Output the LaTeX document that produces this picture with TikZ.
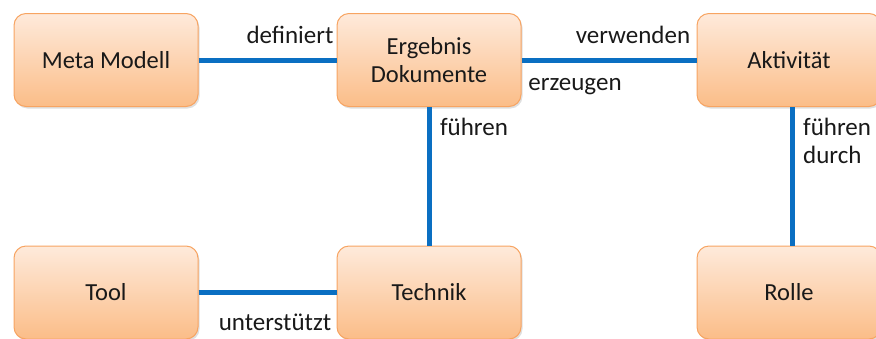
\documentclass[tikz,border=0pt]{standalone}
\usepackage{fontspec}
\setmainfont{Carlito}
\usetikzlibrary{shadows,positioning}
\definecolor{boxtop}{HTML}{FEEADB}
\definecolor{boxbot}{HTML}{FBBD88}
\definecolor{boxline}{HTML}{F7A462}
\definecolor{linkblue}{HTML}{0A6FC2}
\tikzset{
  box/.style={rectangle, rounded corners=12pt, draw=boxline, line width=1pt,
    top color=boxtop, bottom color=boxbot, minimum width=184pt, minimum height=93pt,
    align=center, font=\fontsize{24.5}{28}\selectfont, text=black!90,
    drop shadow={opacity=0.25, shadow xshift=1.5pt, shadow yshift=-2pt}},
  link/.style={draw=linkblue, line width=5pt},
  lbl/.style={font=\fontsize{25}{28}\selectfont, inner sep=0pt, text=black!90}
}
\begin{document}
\begin{tikzpicture}[x=1pt, y=-1pt]
  \useasboundingbox (0,0) rectangle (876,338);
  \clip (0,0) rectangle (876,338);
  % columns
  \def\xA{106}
  \def\xB{429}
  \def\xC{789}
  % top row
  \node[box] (meta) at (\xA,60) {Meta Modell};
  \node[box] (ergebnis) at (\xB,60) {Ergebnis\\Dokumente};
  \node[box] (aktivitaet) at (\xC,60) {Aktivität};
  % bottom row
  \node[box] (tool) at (\xA,292.5) {Tool};
  \node[box] (technik) at (\xB,292.5) {Technik};
  \node[box] (rolle) at (\xC,292.5) {Rolle};
  % links
  \draw[link] (meta) -- (ergebnis);
  \draw[link] (ergebnis) -- (aktivitaet);
  \draw[link] (ergebnis) -- (technik);
  \draw[link] ([xshift=3pt]aktivitaet.south) -- ([xshift=3pt]rolle.north);
  \draw[link] (tool) -- (technik);
  % labels
  \node[lbl] (lDefiniert) at (290,35) {definiert};
  \node[lbl] (lVerwenden) at (633,35) {verwenden};
  \node[lbl] (lErzeugen) at (575,87) {erzeugen};
  \node[lbl] (lFuehren) at (474,127) {führen};
  \node[lbl, align=left, anchor=west] (lDurch) at (803,141) {führen\\durch};
  \node[lbl] (lUnterstuetzt) at (275,322) {unterstützt};
\end{tikzpicture}
\end{document}
